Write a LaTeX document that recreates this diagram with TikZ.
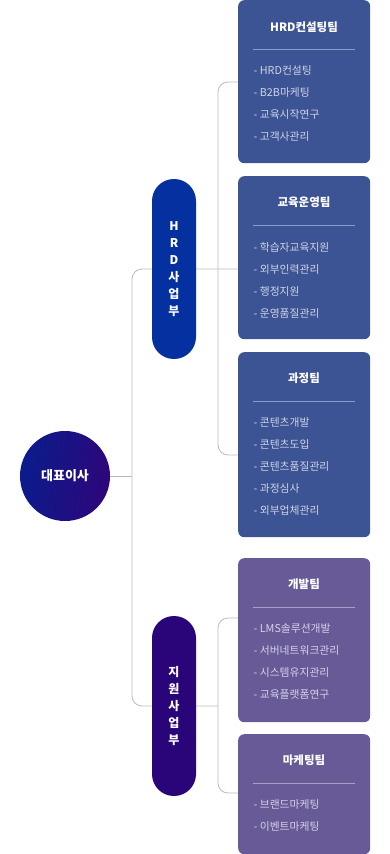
\documentclass[tikz,border=0pt]{standalone}
\usepackage{fontspec}
\setmainfont{Noto Sans CJK KR}
\usetikzlibrary{backgrounds}
\definecolor{boxblue}{HTML}{3D5494}
\definecolor{boxpurple}{HTML}{675A97}
\definecolor{pillblue}{HTML}{0530A0}
\definecolor{pillpurple}{HTML}{2A0479}
\definecolor{ceoleft}{HTML}{0A1C8C}
\definecolor{ceoright}{HTML}{2E067A}
\definecolor{itemblue}{HTML}{CDD3E8}
\definecolor{itempurple}{HTML}{D6D1E8}
\definecolor{sepblue}{HTML}{8C9DCB}
\definecolor{seppurple}{HTML}{A79FCB}
\definecolor{conncol}{HTML}{BBBBBB}
\tikzset{
  teambox/.style={draw=none, rounded corners=6pt, minimum width=132pt, anchor=north west, inner sep=0pt},
  titletext/.style={text=white, font=\bfseries\fontsize{11.5}{13}\selectfont, inner sep=0pt},
  itemtext/.style={anchor=west, font=\fontsize{10.8}{13}\selectfont, inner sep=0pt},
  septhin/.style={line width=0.6pt},
  pill/.style={rounded corners=21.9pt, minimum width=44pt, minimum height=180pt, inner sep=0pt, text=white, align=center, font=\bfseries\fontsize{12}{17}\selectfont},
  conn/.style={draw=conncol, line width=0.8pt, rounded corners=10pt},
}
\begin{document}
\begin{tikzpicture}[x=1pt,y=-1pt]
\useasboundingbox (0,0) rectangle (390,854);
% team boxes
\node[teambox, fill=boxblue, minimum height=163pt] (b1) at (238,0) {};
\node[teambox, fill=boxblue, minimum height=163pt] (b2) at (238,176) {};
\node[teambox, fill=boxblue, minimum height=185pt] (b3) at (238,352) {};
\node[teambox, fill=boxpurple, minimum height=164pt] (b4) at (238,558) {};
\node[teambox, fill=boxpurple, minimum height=120pt] (b5) at (238,734) {};
% box 1
\node[titletext] (t1) at (304,27) {HRD컨설팅팀};
\draw[septhin, sepblue] (253,49) -- (355,49);
\node[itemtext, text=itemblue] (i11) at (253.5,70) {- HRD컨설팅};
\node[itemtext, text=itemblue] (i12) at (253.5,92) {- B2B마케팅};
\node[itemtext, text=itemblue] (i13) at (253.5,114) {- 교육시작연구};
\node[itemtext, text=itemblue] (i14) at (253.5,136) {- 고객사관리};
% box 2
\node[titletext] (t2) at (304,202) {교육운영팀};
\draw[septhin, sepblue] (253,225) -- (355,225);
\node[itemtext, text=itemblue] (i21) at (253.5,247) {- 학습자교육지원};
\node[itemtext, text=itemblue] (i22) at (253.5,269) {- 외부인력관리};
\node[itemtext, text=itemblue] (i23) at (253.5,291) {- 행정지원};
\node[itemtext, text=itemblue] (i24) at (253.5,313) {- 운영품질관리};
% box 3
\node[titletext] (t3) at (304,378) {과정팀};
\draw[septhin, sepblue] (253,401) -- (355,401);
\node[itemtext, text=itemblue] (i31) at (253.5,422) {- 콘텐츠개발};
\node[itemtext, text=itemblue] (i32) at (253.5,444) {- 콘텐츠도입};
\node[itemtext, text=itemblue] (i33) at (253.5,466) {- 콘텐츠품질관리};
\node[itemtext, text=itemblue] (i34) at (253.5,488) {- 과정심사};
\node[itemtext, text=itemblue] (i35) at (253.5,510) {- 외부업체관리};
% box 4
\node[titletext] (t4) at (304,584) {개발팀};
\draw[septhin, seppurple] (253,607) -- (355,607);
\node[itemtext, text=itempurple] (i41) at (253.5,628) {- LMS솔루션개발};
\node[itemtext, text=itempurple] (i42) at (253.5,650) {- 서버네트워크관리};
\node[itemtext, text=itempurple] (i43) at (253.5,672) {- 시스템유지관리};
\node[itemtext, text=itempurple] (i44) at (253.5,694) {- 교육플랫폼연구};
% box 5
\node[titletext] (t5) at (304,760) {마케팅팀};
\draw[septhin, seppurple] (253,783) -- (355,783);
\node[itemtext, text=itempurple] (i51) at (253.5,804) {- 브랜드마케팅};
\node[itemtext, text=itempurple] (i52) at (253.5,826) {- 이벤트마케팅};
% pills
\node[pill, fill=pillblue] (hrd) at (174,269) {H\\R\\D\\사\\업\\부};
\node[pill, fill=pillpurple] (sup) at (174,706) {지\\원\\사\\업\\부};
% ceo
\node[circle, minimum size=90pt, inner sep=0pt, left color=ceoleft, right color=ceoright, shading angle=80, text=white, font=\bfseries\fontsize{13}{15}\selectfont] (ceo) at (65,476) {대표이사};
% connectors
\coordinate (j0) at (132,476);
\coordinate (ja) at (218,269);
\coordinate (jb) at (218,706);
\begin{scope}[on background layer]
\draw[conn] (ceo.east) -- (j0);
\draw[conn] (b2.west |- hrd.center) -| (j0) |- (jb);
\draw[conn] (b1.west |- 0,82) -| (ja) |- (b3.west |- 0,455);
\draw[conn] (b4.west |- 0,618) -| (jb) |- (b5.west |- 0,793);
\end{scope}
\end{tikzpicture}
\end{document}
